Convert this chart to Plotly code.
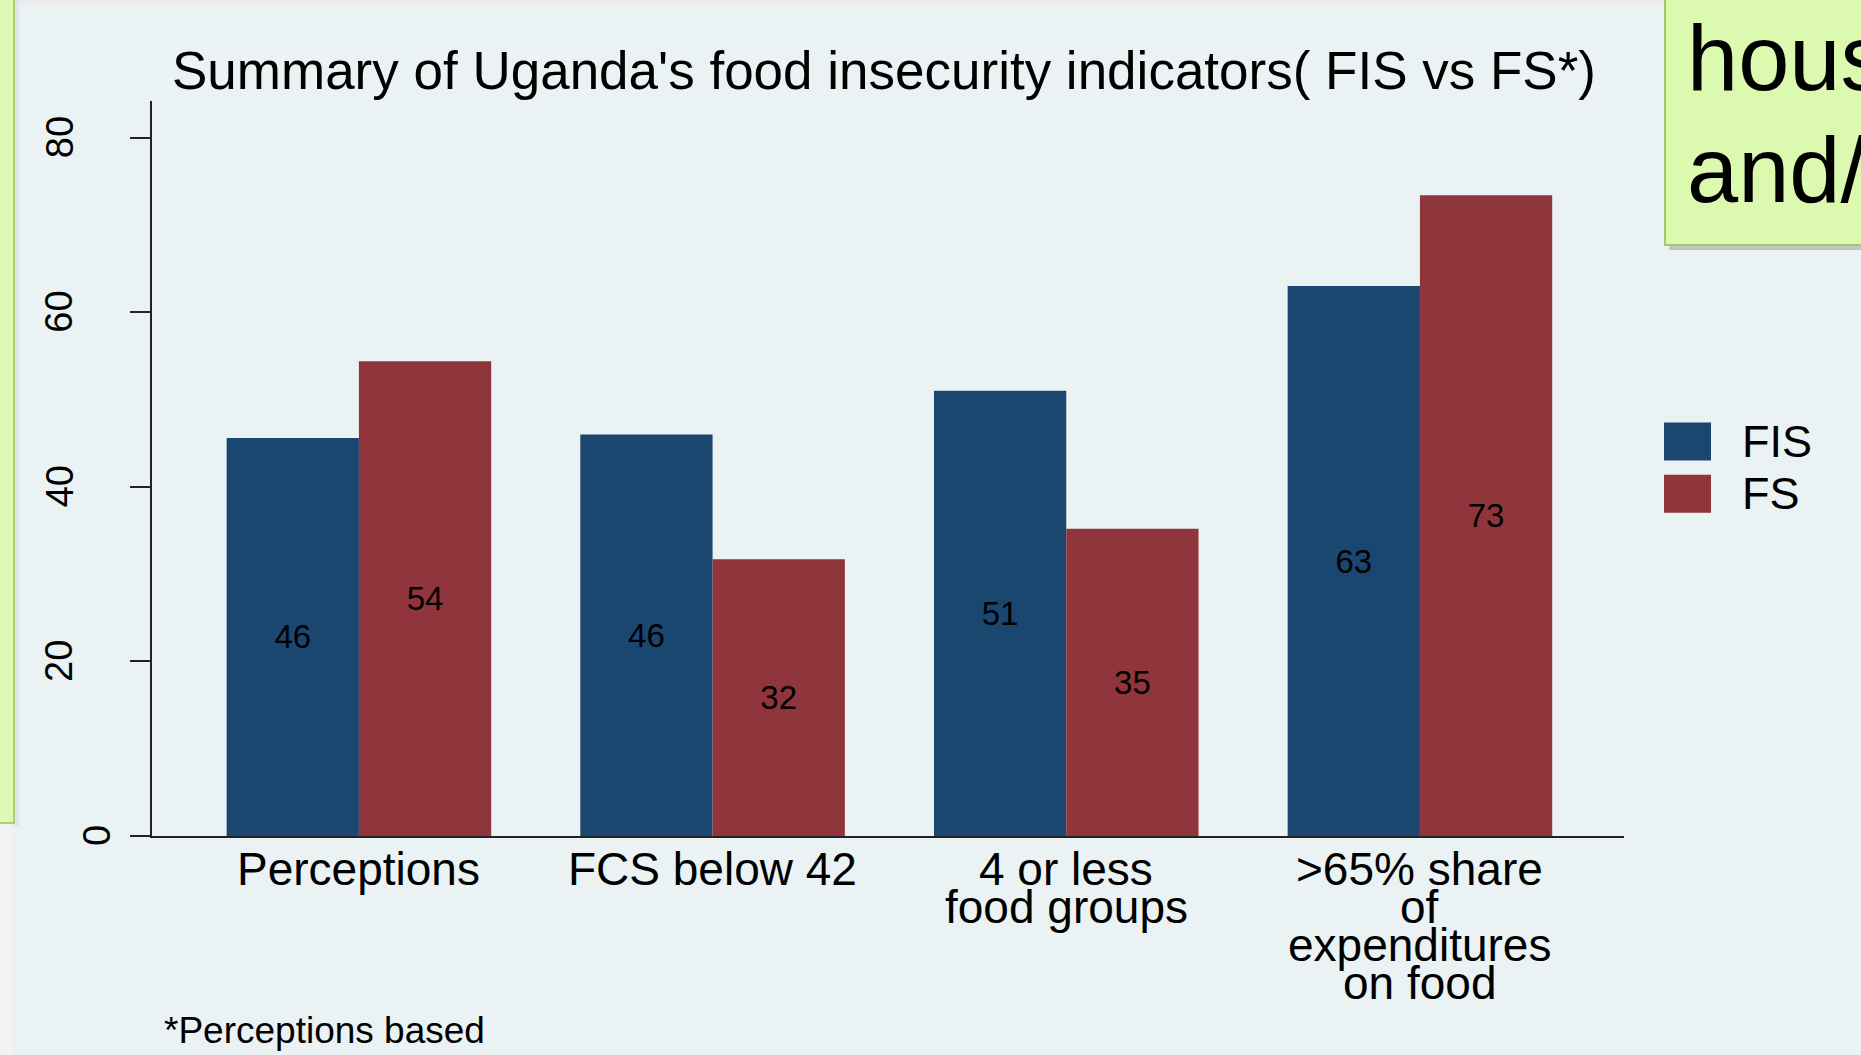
import plotly.graph_objects as go

# chart data
categories = ["Perceptions", "FCS below 42", "4 or less\nfood groups",
              ">65% share\nof\nexpenditures\non food"]
fis_values = [45.6, 46.0, 51.0, 63.0]
fs_values = [54.4, 31.7, 35.2, 73.4]
series_names = ["FIS", "FS"]
y_ticks = [0, 20, 40, 60, 80]

FIS_COLOR = "#1a476f"
FS_COLOR = "#90353b"
BG = "#eaf2f3"
FONT = "Liberation Sans, Arial, sans-serif"

# plot area in page pixels (Stata-like layout)
L, R, T, B = 152, 1624, 101, 836
W, H = 1861, 1055


def px_x(p):
    return (p - L) / (R - L)


def px_y(p):
    return (B - p) / (B - T)


fig = go.Figure()
fig.add_trace(go.Bar(x=list(range(len(categories))), y=fis_values, name=series_names[0],
                     marker=dict(color=FIS_COLOR, line=dict(width=0)),
                     texttemplate="%{y:.0f}", textposition="inside",
                     insidetextanchor="middle", textangle=0,
                     textfont=dict(color="black", size=33, family=FONT)))
fig.add_trace(go.Bar(x=list(range(len(categories))), y=fs_values, name=series_names[1],
                     marker=dict(color=FS_COLOR, line=dict(width=0)),
                     texttemplate="%{y:.0f}", textposition="inside",
                     insidetextanchor="middle", textangle=0,
                     textfont=dict(color="black", size=33, family=FONT)))

fig.update_layout(
    width=W, height=H,
    barmode="group", bargap=0.252, bargroupgap=0,
    paper_bgcolor=BG, plot_bgcolor=BG,
    margin=dict(l=L, r=W - R, t=T, b=H - B, pad=0),
    showlegend=False,
    font=dict(family=FONT, color="black"),
    uniformtext=dict(minsize=33, mode="show"),
    title=dict(text="Summary of Uganda's food insecurity indicators( FIS vs FS*)",
               x=884 / W, xanchor="center", xref="container",
               y=1 - 70 / H, yanchor="middle", yref="container",
               font=dict(size=53, family=FONT, color="black")),
)
fig.update_xaxes(range=[-0.585, len(categories) - 1 + 0.577], showticklabels=False,
                 ticks="", showline=True, linecolor="#222", linewidth=2,
                 showgrid=False, zeroline=False, fixedrange=True)
fig.update_yaxes(range=[0, 84.2], tickvals=y_ticks, showticklabels=False,
                 ticks="outside", ticklen=20, tickwidth=2, tickcolor="#222",
                 showline=True, linecolor="#222", linewidth=2,
                 showgrid=False, zeroline=False, fixedrange=True)

annotations = []
# y tick labels, vertical like Stata's default
for v in y_ticks:
    s = str(v)
    annotations.append(dict(text=s, x=px_x(97 - 37.5 * (len(s) - 1)), xref="paper",
                            y=v, yref="y", textangle=-90, showarrow=False,
                            xanchor="center", yanchor="middle",
                            font=dict(size=38, family=FONT, color="black")))

# category labels, tight line spacing
for i, lab in enumerate(categories):
    for j, line in enumerate(lab.split("\n")):
        annotations.append(dict(text=line, x=i, xref="x", y=px_y(869 + 38 * j), yref="paper",
                                showarrow=False, xanchor="center", yanchor="middle",
                                font=dict(size=46, family=FONT, color="black")))

# legend drawn by hand so the keys are as big as in the original
shapes = []
for k, (name, col) in enumerate(zip(series_names, [FIS_COLOR, FS_COLOR])):
    top = 422.5 + 52.3 * k
    shapes.append(dict(type="rect", xref="paper", yref="paper",
                       x0=px_x(1664), x1=px_x(1711), y0=px_y(top + 38), y1=px_y(top),
                       fillcolor=col, line=dict(width=0)))
    annotations.append(dict(text=name, x=px_x(1740), xref="paper", y=px_y(top + 19),
                            yref="paper", showarrow=False, xanchor="left", yanchor="middle",
                            font=dict(size=45, family=FONT, color="black")))

annotations.append(dict(text="*Perceptions based", x=px_x(162), xref="paper",
                        y=px_y(1030), yref="paper", showarrow=False,
                        xanchor="left", yanchor="middle",
                        font=dict(size=37, family=FONT, color="black")))

# slide decorations around the chart
shapes += [
    dict(type="rect", xref="paper", yref="paper", x0=px_x(15), x1=px_x(1665),
         y0=px_y(5), y1=px_y(-5), fillcolor="#ececec", line=dict(width=0)),
    dict(type="rect", xref="paper", yref="paper", x0=px_x(-5), x1=px_x(12),
         y0=px_y(1060), y1=px_y(823), fillcolor="#f3f3f3", line=dict(width=0)),
    dict(type="rect", xref="paper", yref="paper", x0=px_x(14), x1=px_x(19),
         y0=px_y(826), y1=px_y(-5), fillcolor="#dfe6e7", line=dict(width=0)),
    dict(type="rect", xref="paper", yref="paper", x0=px_x(-5), x1=px_x(14),
         y0=px_y(823), y1=px_y(-5), fillcolor="#dffab6",
         line=dict(color="#a9d36e", width=2)),
    dict(type="rect", xref="paper", yref="paper", x0=px_x(1669), x1=px_x(1870),
         y0=px_y(250), y1=px_y(-5), fillcolor="rgba(0,0,0,0.18)", line=dict(width=0)),
    dict(type="rect", xref="paper", yref="paper", x0=px_x(1665), x1=px_x(1870),
         y0=px_y(245), y1=px_y(-5), fillcolor="#dbfab0",
         line=dict(color="#a3c96a", width=2)),
]
annotations += [
    dict(text="households", x=px_x(1685), xref="paper", y=px_y(58), yref="paper",
         showarrow=False, xanchor="left", yanchor="middle",
         font=dict(size=92, family=FONT, color="black")),
    dict(text="and/or", x=px_x(1685), xref="paper", y=px_y(170), yref="paper",
         showarrow=False, xanchor="left", yanchor="middle",
         font=dict(size=92, family=FONT, color="black")),
]

fig.update_layout(shapes=shapes, annotations=annotations)

fig.write_html("out.html", config={"displayModeBar": False},
               post_script="document.body.style.margin='0px';")
